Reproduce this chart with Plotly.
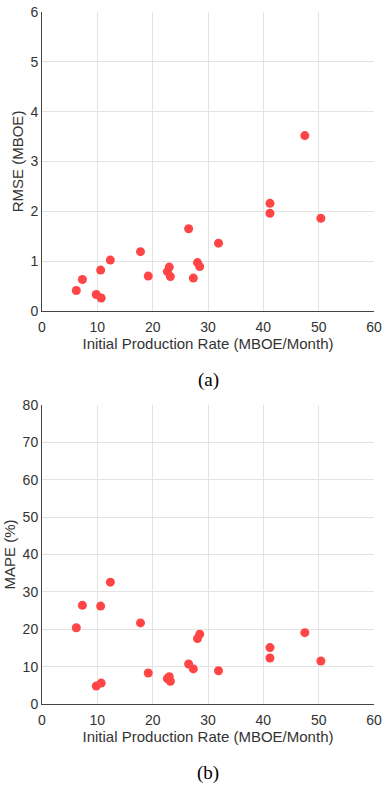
import plotly.graph_objects as go

ipr = [6.2, 7.3, 9.8, 10.7, 10.6, 12.35, 17.8, 19.2, 22.65, 23.0, 23.2, 26.5, 27.35, 28.1, 28.5, 31.9, 41.2, 41.2, 50.4, 47.5]
rmse = [0.41, 0.63, 0.33, 0.26, 0.82, 1.02, 1.19, 0.70, 0.79, 0.88, 0.69, 1.65, 0.66, 0.97, 0.89, 1.36, 2.16, 1.96, 1.86, 3.52]
mape = [20.4, 26.4, 4.8, 5.6, 26.2, 32.6, 21.7, 8.3, 6.8, 7.3, 6.1, 10.7, 9.4, 17.5, 18.7, 8.9, 15.1, 12.3, 11.5, 19.1]

x_title = "Initial Production Rate (MBOE/Month)"

fig = go.Figure()
marker = dict(color="#FF4545", size=9, line=dict(width=0))
fig.add_trace(go.Scatter(x=ipr, y=rmse, mode="markers", marker=marker, xaxis="x", yaxis="y", showlegend=False))
fig.add_trace(go.Scatter(x=ipr, y=mape, mode="markers", marker=marker, xaxis="x2", yaxis="y2", showlegend=False))

tickfont = dict(family="Arial, Liberation Sans, sans-serif", size=14, color="#333333")
titlefont = dict(family="Arial, Liberation Sans, sans-serif", size=15, color="#333333")
common_x = dict(range=[0, 60], dtick=10, showgrid=True, gridcolor="#E3E3E3", gridwidth=1,
                showline=True, linecolor="#444444", linewidth=1, zeroline=False, automargin=False,
                ticks="", ticklabelstandoff=3, tickfont=tickfont,
                title=dict(text=x_title, font=titlefont, standoff=4))
common_y = dict(showgrid=True, gridcolor="#E3E3E3", gridwidth=1, automargin=False,
                showline=True, linecolor="#444444", linewidth=1, zeroline=False,
                ticks="", tickfont=tickfont)

fig.update_layout(
    width=383, height=788,
    margin=dict(l=42, r=9, t=12, b=84),
    plot_bgcolor="white", paper_bgcolor="white",
    xaxis=dict(domain=[0, 1], anchor="y", **common_x),
    yaxis=dict(domain=[0.568, 1], anchor="x", range=[0, 6], dtick=1,
               title=dict(text="RMSE (MBOE)", font=titlefont, standoff=3), **common_y),
    xaxis2=dict(domain=[0, 1], anchor="y2", **common_x),
    yaxis2=dict(domain=[0, 0.432], anchor="x2", range=[0, 80], dtick=10,
                title=dict(text="MAPE (%)", font=titlefont, standoff=3), **common_y),
)

fig.add_annotation(text="(a)", xref="paper", yref="paper", x=0.5, y=(788 - 84 - 380) / 692,
                   showarrow=False, yanchor="middle",
                   font=dict(family="Liberation Serif, Times New Roman, serif", size=19, color="#000000"))
fig.add_annotation(text="(b)", xref="paper", yref="paper", x=0.5, y=(788 - 84 - 773) / 692,
                   showarrow=False, yanchor="middle",
                   font=dict(family="Liberation Serif, Times New Roman, serif", size=19, color="#000000"))

fig.write_html("out.html")
